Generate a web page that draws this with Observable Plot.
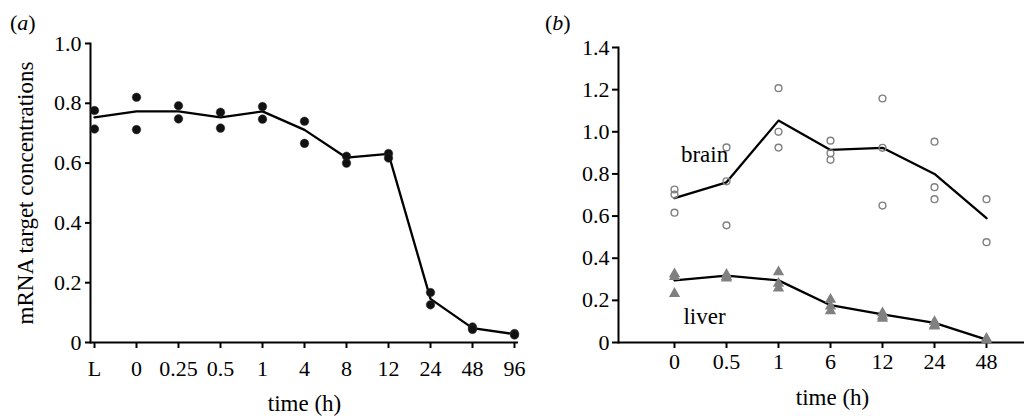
<!DOCTYPE html>
<html><head><meta charset="utf-8">
<script src="https://cdn.jsdelivr.net/npm/d3@7"></script>
<script src="https://cdn.jsdelivr.net/npm/@observablehq/plot@0.6"></script>
<style>
html,body{margin:0;padding:0;background:#fff;overflow:hidden}
#wrap{position:relative;width:1024px;height:416px;font-family:"Liberation Serif","Times New Roman",serif;color:#000}
#wrap svg{position:absolute;top:0;overflow:visible;background:transparent}
#wrap svg text{font-family:"Liberation Serif","Times New Roman",serif}
.tag{position:absolute;font-size:22px;line-height:1;z-index:2}
</style></head><body>
<div id="wrap">
  <div class="tag" style="left:10px;top:12px">(<i>a</i>)</div>
  <div class="tag" style="left:545px;top:12px">(<i>b</i>)</div>
</div>
<script>
// ---------- panel (a) ----------
const aTimes = ["L","0","0.25","0.5","1","4","8","12","24","48","96"];
const aRep1  = [0.776,0.820,0.792,0.770,0.789,0.740,0.623,0.632,0.167,0.052,0.030];
const aRep2  = [0.714,0.712,0.748,0.717,0.747,0.666,0.600,0.617,0.126,0.044,0.025];
const aMean  = [0.753,0.773,0.773,0.753,0.773,0.711,0.618,0.631,0.146,0.048,0.028];
const aYTicks = [0,0.2,0.4,0.6,0.8,1.0];

// ---------- panel (b) ----------
const bTimes = ["0","0.5","1","6","12","24","48"];
const bBrainReps = [
  [0.726,0.702,0.616],
  [0.926,0.765,0.556],
  [1.207,1.000,0.925],
  [0.958,0.898,0.867],
  [1.158,0.924,0.650],
  [0.953,0.737,0.680],
  [0.680,0.476]
];
const bBrainMean = [0.685,0.760,1.053,0.914,0.924,0.800,0.590];
const bLiverReps = [
  [0.325,0.312,0.232],
  [0.322,0.312,0.305],
  [0.335,0.280,0.258],
  [0.204,0.172,0.150],
  [0.140,0.125,0.114],
  [0.098,0.082,0.077],
  [0.019,0.011]
];
const bLiverMean = [0.295,0.317,0.295,0.177,0.133,0.093,0.014];
const bYTicks = [0,0.2,0.4,0.6,0.8,1.0,1.2,1.4];
const bLabels = ["brain","liver"];
const bLabelY = [0.89,0.125];

const fmt = d => d === 0 ? "0" : d.toFixed(1);
const FONT = '"Liberation Serif","Times New Roman",serif';

const aPoints = aTimes.flatMap((t,i) => [{t, v:aRep1[i]},{t, v:aRep2[i]}]);
const aLine = aTimes.map((t,i) => ({t, v:aMean[i]}));

const brainPts = bTimes.flatMap((t,i) => bBrainReps[i].map(v => ({t, v})));
const liverPts = bTimes.flatMap((t,i) => bLiverReps[i].map(v => ({t, v})));
const brainLine = bTimes.map((t,i) => ({t, v:bBrainMean[i]}));
const liverLine = bTimes.map((t,i) => ({t, v:bLiverMean[i]}));
const labelData = bLabels.map((l,i) => ({t:bTimes[0], v:bLabelY[i], l}));

const wrap = document.getElementById("wrap");
const axisStyle = {fontFamily: FONT, fontVariant: "normal", fontSize: 22, strokeWidth: 2, label: null};

const pa = Plot.plot({
  width: 520, height: 416,
  marginLeft: 90, marginRight: 2, marginTop: 43, marginBottom: 74,
  style: {fontFamily: FONT, fontSize: "22px", background: "transparent", overflow: "visible", color: "#000"},
  x: {type: "point", domain: aTimes, padding: 0},
  y: {domain: [0, 1]},
  marks: [
    Plot.axisY({...axisStyle, ticks: aYTicks, tickFormat: fmt, tickSize: 5, tickPadding: 4}),
    Plot.axisX({...axisStyle, tickSize: 6, tickPadding: 12}),
    Plot.ruleY([0], {strokeWidth: 2}),
    Plot.frame({anchor: "left", strokeWidth: 2}),
    Plot.line(aLine, {x: "t", y: "v", stroke: "#000", strokeWidth: 2.3}),
    Plot.dot(aPoints, {x: "t", y: "v", r: 4.3, fill: "#111", stroke: "#333", strokeWidth: 0.5}),
    Plot.text(["mRNA target concentrations"], {frameAnchor: "left", textAnchor: "middle", rotate: -90, dx: -65, fontSize: 23, fontFamily: FONT}),
    Plot.text(["time (h)"], {frameAnchor: "bottom", dy: 68, fontSize: 23, fontFamily: FONT})
  ]
});
pa.style.left = "0px";
wrap.appendChild(pa);

const pb = Plot.plot({
  width: 504, height: 416,
  marginLeft: 98, marginRight: 0, marginTop: 47, marginBottom: 74,
  style: {fontFamily: FONT, fontSize: "22px", background: "transparent", overflow: "visible", color: "#000"},
  x: {type: "point", domain: bTimes, range: [126, 493.3]},
  y: {domain: [0, 1.4]},
  marks: [
    Plot.axisY({...axisStyle, ticks: bYTicks, tickFormat: fmt, tickSize: 6, tickPadding: 3}),
    Plot.axisX({...axisStyle, tickSize: 6, tickPadding: 5}),
    Plot.ruleY([0], {strokeWidth: 2}),
    Plot.frame({anchor: "left", strokeWidth: 2}),
    Plot.line(brainLine, {x: "t", y: "v", stroke: "#000", strokeWidth: 2.3}),
    Plot.line(liverLine, {x: "t", y: "v", stroke: "#000", strokeWidth: 2.3}),
    Plot.dot(brainPts, {x: "t", y: "v", r: 3.4, fill: "none", stroke: "#808080", strokeWidth: 1.4}),
    Plot.dot(liverPts, {x: "t", y: "v", r: 4.2, symbol: "triangle", fill: "#808080"}),
    Plot.text(labelData, {x: "t", y: "v", text: "l", dx: 30, fontSize: 23, fontFamily: FONT}),
    Plot.text(["time (h)"], {frameAnchor: "bottom", dy: 62, dx: 11, fontSize: 23, fontFamily: FONT})
  ]
});
pb.style.left = "520px";
wrap.appendChild(pb);
</script>
</body></html>
